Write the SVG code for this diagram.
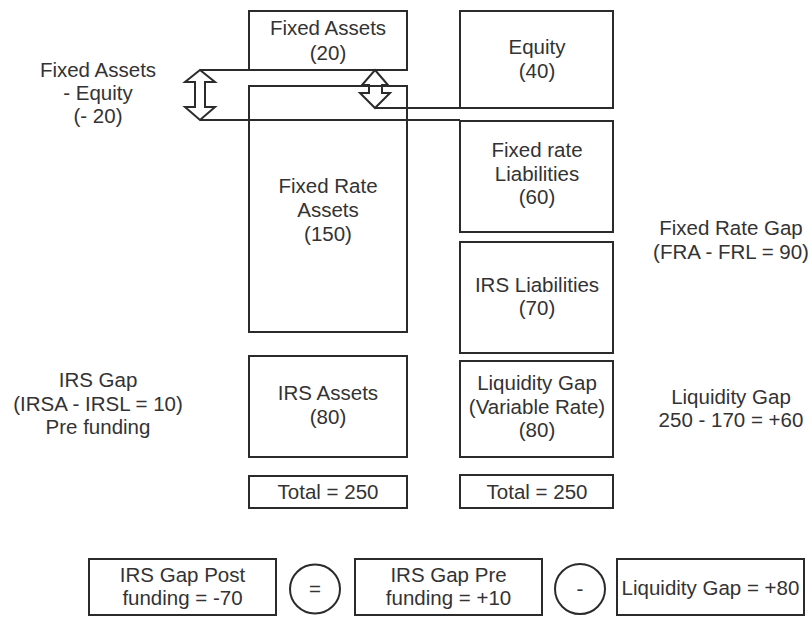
<svg xmlns="http://www.w3.org/2000/svg" width="812" height="617" viewBox="0 0 812 617">
<style>
  .box{fill:none;stroke:#2b2b2b;stroke-width:2}
  .ln{fill:none;stroke:#2b2b2b;stroke-width:2}
  .arr{fill:#fff;stroke:#2b2b2b;stroke-width:2;stroke-linejoin:miter}
  text{font-family:"Liberation Sans",Arial,sans-serif;font-size:20.5px;fill:#333;text-anchor:middle}
</style>
<rect width="812" height="617" fill="#fff"/>

<g id="connectors">
  <line class="ln" x1="200" y1="70" x2="249" y2="70"/>
  <line class="ln" x1="200" y1="120" x2="460" y2="120"/>
  <line class="ln" x1="375" y1="108" x2="460" y2="108"/>
  <path class="arr" d="M200,70 L215,82 L205,82 L205,107 L215,107 L200,120 L185,107 L195,107 L195,82 L185,82 Z"/>
  <path class="arr" d="M375,70 L388,85 L382,85 L382,93 L390,93 L375,108 L360,93 L369,93 L369,85 L362,85 Z"/>
</g>

<g id="fixed-assets">
  <rect class="box" x="249" y="11" width="158" height="59"/>
  <text x="328" y="35">Fixed Assets</text>
  <text x="328" y="60">(20)</text>
</g>
<g id="fixed-rate-assets">
  <rect class="box" x="249" y="86" width="158" height="246"/>
  <text x="328" y="193">Fixed Rate</text>
  <text x="328" y="217">Assets</text>
  <text x="328" y="241">(150)</text>
</g>
<g id="irs-assets">
  <rect class="box" x="249" y="356" width="158" height="101"/>
  <text x="328" y="400">IRS Assets</text>
  <text x="328" y="424">(80)</text>
</g>
<g id="total-assets">
  <rect class="box" x="249" y="476" width="158" height="32"/>
  <text x="328" y="499">Total = 250</text>
</g>

<g id="equity">
  <rect class="box" x="460" y="11" width="153" height="97"/>
  <text x="537" y="54">Equity</text>
  <text x="537" y="78">(40)</text>
</g>
<g id="fixed-rate-liabilities">
  <rect class="box" x="460" y="121" width="153" height="111"/>
  <text x="537" y="157">Fixed rate</text>
  <text x="537" y="181">Liabilities</text>
  <text x="537" y="204">(60)</text>
</g>
<g id="irs-liabilities">
  <rect class="box" x="460" y="242" width="153" height="111"/>
  <text x="537" y="292">IRS Liabilities</text>
  <text x="537" y="315">(70)</text>
</g>
<g id="liquidity-gap-box">
  <rect class="box" x="460" y="361" width="153" height="96"/>
  <text x="537" y="390">Liquidity Gap</text>
  <text x="537" y="414">(Variable Rate)</text>
  <text x="537" y="437">(80)</text>
</g>
<g id="total-liabilities">
  <rect class="box" x="460" y="475" width="153" height="33"/>
  <text x="537" y="499">Total = 250</text>
</g>

<g id="label-fa-equity">
  <text x="98" y="77">Fixed Assets</text>
  <text x="98" y="100">- Equity</text>
  <text x="98" y="123">(- 20)</text>
</g>
<g id="label-irs-gap">
  <text x="98" y="387">IRS Gap</text>
  <text x="98" y="411">(IRSA - IRSL = 10)</text>
  <text x="98" y="434">Pre funding</text>
</g>
<g id="label-fixed-rate-gap">
  <text x="731" y="235">Fixed Rate Gap</text>
  <text x="731" y="259">(FRA - FRL = 90)</text>
</g>
<g id="label-liquidity-gap">
  <text x="731" y="404">Liquidity Gap</text>
  <text x="731" y="427">250 - 170 = +60</text>
</g>

<g id="irs-gap-post">
  <rect class="box" x="89" y="559" width="187" height="56"/>
  <text x="182.5" y="582">IRS Gap Post</text>
  <text x="182.5" y="605">funding = -70</text>
</g>
<g id="equals">
  <ellipse class="box" cx="315" cy="589" rx="25" ry="24.5"/>
  <text x="315" y="596">=</text>
</g>
<g id="irs-gap-pre">
  <rect class="box" x="355" y="559" width="187" height="56"/>
  <text x="448.5" y="582">IRS Gap Pre</text>
  <text x="448.5" y="605">funding = +10</text>
</g>
<g id="minus">
  <ellipse class="box" cx="580" cy="589" rx="25" ry="25"/>
  <text x="580" y="596">-</text>
</g>
<g id="liquidity-gap-80">
  <rect class="box" x="617" y="559" width="187" height="56"/>
  <text x="710.5" y="595">Liquidity Gap = +80</text>
</g>
</svg>
